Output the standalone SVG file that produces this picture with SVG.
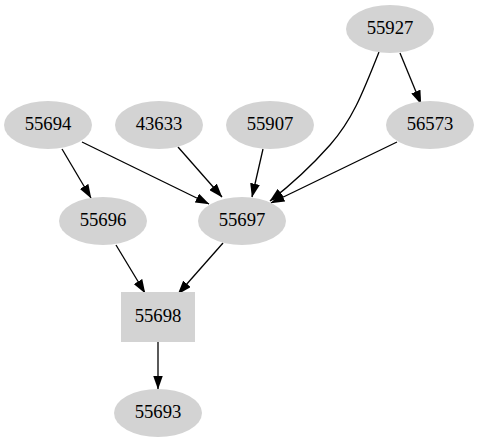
<svg xmlns="http://www.w3.org/2000/svg" width="479" height="443" viewBox="0 0 479 443">
<style>
.n ellipse, .n rect { fill: #d3d3d3; stroke: none; }
.n text { font-family: "Liberation Serif", "Times New Roman", serif; font-size: 18.7px; text-anchor: middle; fill: #000; }
.e path { fill: none; stroke: #000; stroke-width: 1.3; marker-end: url(#ah); }
</style>
<defs>
<marker id="ah" markerUnits="userSpaceOnUse" markerWidth="14" markerHeight="10" refX="13" refY="4.75" orient="auto" viewBox="0 0 13.5 9.5">
<path d="M0,0 L13.5,4.75 L0,9.5 z" fill="#000"/>
</marker>
</defs>
<rect width="479" height="443" fill="#fff"/>
<g id="edges" class="e">
<path d="M400,53 L421,104"/>
<path d="M379,52 C362,95 352,120 330,145 C314,163 292,184 270,201"/>
<path d="M397,142 L271,203"/>
<path d="M62,149 L91,198"/>
<path d="M82,142 L209,204"/>
<path d="M178,147 L222,197"/>
<path d="M263,149 L252,197"/>
<path d="M116,245 L145,293"/>
<path d="M223,243 L178,294"/>
<path d="M158,342 L158,389"/>
</g>
<g id="n55927" class="n"><ellipse cx="390" cy="29" rx="44" ry="24"/><text x="390" y="34">55927</text></g>
<g id="n55694" class="n"><ellipse cx="48" cy="125" rx="44" ry="24"/><text x="48" y="130">55694</text></g>
<g id="n43633" class="n"><ellipse cx="159" cy="125" rx="44" ry="24"/><text x="159" y="130">43633</text></g>
<g id="n55907" class="n"><ellipse cx="270" cy="125" rx="44" ry="24"/><text x="270" y="130">55907</text></g>
<g id="n56573" class="n"><ellipse cx="430" cy="125" rx="44" ry="24"/><text x="430" y="130">56573</text></g>
<g id="n55696" class="n"><ellipse cx="103" cy="221" rx="44" ry="24"/><text x="103" y="226">55696</text></g>
<g id="n55697" class="n"><ellipse cx="242" cy="221" rx="44" ry="24"/><text x="242" y="226">55697</text></g>
<g id="n55698" class="n"><rect x="121" y="292" width="74" height="50"/><text x="158" y="322">55698</text></g>
<g id="n55693" class="n"><ellipse cx="158" cy="413" rx="44" ry="24"/><text x="158" y="418">55693</text></g>
</svg>
